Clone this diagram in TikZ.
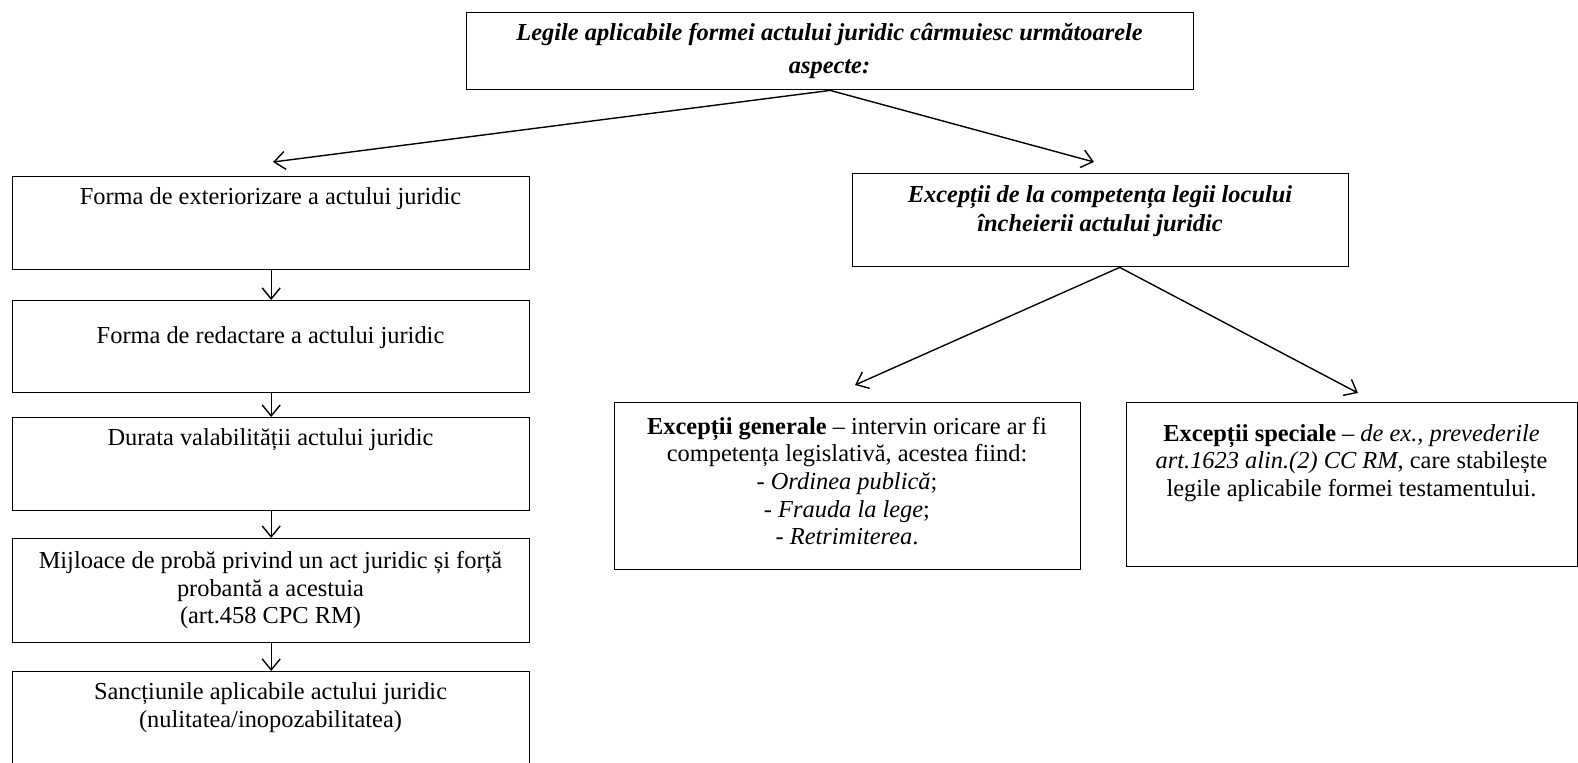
\documentclass[tikz,border=0pt]{standalone}
\usepackage{fontspec}
\setmainfont{Liberation Serif}
\usetikzlibrary{positioning,arrows.meta}

\tikzset{
  caseta/.style={draw, line width=0.7pt, anchor=north west, inner sep=0pt},
  textcaseta/.style={align=center, inner sep=0pt, font=\fontsize{12.2}{13.8}\selectfont},
  textaccent/.style={align=center, inner sep=0pt, font=\fontsize{12.2}{#1}\selectfont\bfseries\itshape},
  sageata/.style={line width=0.7pt, -{Straight Barb[length=5.5pt,width=9pt]}},
}

\begin{document}
\begin{tikzpicture}[x=0.5pt,y=-0.5pt]
    \useasboundingbox (0,0) rectangle (1578,762);

    % titlu
    \node[caseta, minimum width=363.5pt, minimum height=38.5pt] (titlu) at (466,12) {};
    \node[textaccent=16.5pt] (titluText) at (829.5,51)
        {Legile aplicabile formei actului juridic cârmuiesc următoarele\\aspecte:};

    % coloana stanga
    \node[caseta, minimum width=258.5pt, minimum height=46.5pt] (formaExt) at (12,176) {};
    \node[caseta, minimum width=258.5pt, minimum height=46pt] (formaRed) at (12,300) {};
    \node[caseta, minimum width=258.5pt, minimum height=46.5pt] (durata) at (12,417) {};
    \node[caseta, minimum width=258.5pt, minimum height=52pt] (mijloace) at (12,538) {};
    \node[caseta, minimum width=258.5pt, minimum height=48pt] (sanctiuni) at (12,671) {};

    \node[textcaseta] (formaExtText) at (270.5,199) {Forma de exteriorizare a actului juridic};
    \node[textcaseta] (formaRedText) at (270.5,338) {Forma de redactare a actului juridic};
    \node[textcaseta] (durataText) at (270.5,440) {Durata valabilității actului juridic};
    \node[textcaseta] (mijloaceText) at (270.5,590)
        {Mijloace de probă privind un act juridic și forță\\probantă a acestuia\\(art.458 CPC RM)};
    \node[textcaseta] (sanctiuniText) at (270.5,707.5)
        {Sancțiunile aplicabile actului juridic\\(nulitatea/inopozabilitatea)};

    % ramura dreapta
    \node[caseta, minimum width=248pt, minimum height=46.5pt] (exceptii) at (852,173) {};
    \node[textaccent=14.5pt] (exceptiiText) at (1100,211.5)
        {Excepții de la competența legii locului\\încheierii actului juridic};

    \node[caseta, minimum width=233pt, minimum height=83.5pt] (generale) at (614,402) {};
    \node[caseta, minimum width=225.5pt, minimum height=82pt] (speciale) at (1126,402) {};

    \node[textcaseta] (generaleText) at (847,481)
        {\textbf{Excepții generale} – intervin oricare ar fi\\
         competența legislativă, acestea fiind:\\
         - \textit{Ordinea publică};\\
         - \textit{Frauda la lege};\\
         - \textit{Retrimiterea}.};
    \node[textcaseta] (specialeText) at (1351.5,463)
        {\textbf{Excepții speciale} – \textit{de ex., prevederile}\\
         \textit{art.1623 alin.(2) CC RM}, care stabilește\\
         legile aplicabile formei testamentului.};

    % capete de sageti
    \coordinate (capStanga) at (273,162);
    \coordinate (capDreapta) at (1094,162);
    \coordinate (capGenerale) at (855,385);
    \coordinate (capSpeciale) at (1358,393);

    \draw[sageata] (titlu.south) -- (capStanga);
    \draw[sageata] (titlu.south) -- (capDreapta);
    \draw[sageata] ([xshift=9.5pt]exceptii.south) -- (capGenerale);
    \draw[sageata] ([xshift=9.5pt]exceptii.south) -- (capSpeciale);

    \draw[sageata] (formaExt.south) -- (formaRed.north);
    \draw[sageata] (formaRed.south) -- (durata.north);
    \draw[sageata] (durata.south) -- (mijloace.north);
    \draw[sageata] (mijloace.south) -- (sanctiuni.north);
\end{tikzpicture}
\end{document}
